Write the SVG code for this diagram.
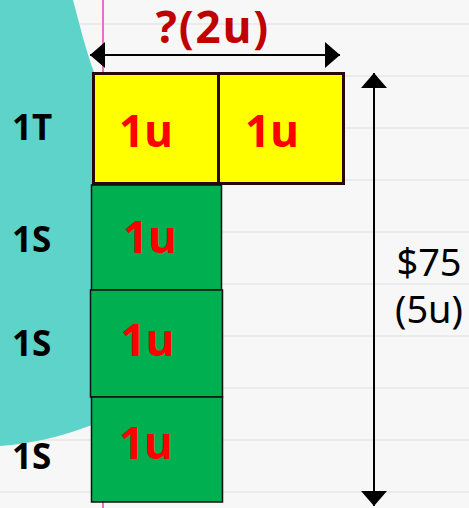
<svg xmlns="http://www.w3.org/2000/svg" width="469" height="508" viewBox="0 0 469 508">
<defs>
<style>
.rule{stroke:#ebebeb;stroke-width:2}
.yb{fill:#ffff00;stroke:#2a0808;stroke-width:3}
.gb{fill:#00b050;stroke:#111;stroke-width:1.5}
.u{font-family:"Noto Sans",sans-serif;font-weight:bold;font-size:44px;fill:#ff0000;text-anchor:middle}
.lab{font-family:"Noto Sans",sans-serif;font-weight:bold;font-size:35px;fill:#000}
.dim{font-family:"Noto Sans",sans-serif;font-size:38px;fill:#000}
.ln{stroke:#000;stroke-width:2;fill:none}
</style>
<marker id="ah" viewBox="0 0 15 26" refX="15" refY="13" markerWidth="15" markerHeight="26" markerUnits="userSpaceOnUse" orient="auto-start-reverse">
<path d="M0,0 L15,13 L0,26 Z" fill="#000"/>
</marker>
</defs>
<rect x="0" y="0" width="469" height="508" fill="#f7f7f7"/>
<g id="rules">
<line class="rule" x1="0" y1="24" x2="469" y2="24"/>
<line class="rule" x1="0" y1="76" x2="469" y2="76"/>
<line class="rule" x1="0" y1="128" x2="469" y2="128"/>
<line class="rule" x1="0" y1="180" x2="469" y2="180"/>
<line class="rule" x1="0" y1="232" x2="469" y2="232"/>
<line class="rule" x1="0" y1="284" x2="469" y2="284"/>
<line class="rule" x1="0" y1="336" x2="469" y2="336"/>
<line class="rule" x1="0" y1="388" x2="469" y2="388"/>
<line class="rule" x1="0" y1="440" x2="469" y2="440"/>
<line class="rule" x1="0" y1="492" x2="469" y2="492"/>
</g>
<path id="teal" d="M0,0 H73 C79,22 85,48 95,75 L95,424 C60,437 30,444 0,446 Z" fill="#5dd3c9"/>
<line id="margin" x1="103" y1="0" x2="103" y2="508" stroke="#f06cc8" stroke-width="2"/>
<g id="labels">
<text class="lab" x="12" y="140">1T</text>
<text class="lab" x="12" y="252">1S</text>
<text class="lab" x="12" y="356">1S</text>
<text class="lab" x="12" y="469">1S</text>
</g>
<g id="t1"><rect class="yb" x="93.5" y="73.5" width="125" height="110"/><text class="u" x="146" y="147">1u</text></g>
<g id="t2"><rect class="yb" x="218.5" y="73.5" width="125" height="110"/><text class="u" x="272" y="147">1u</text></g>
<g id="s1"><rect class="gb" x="91.5" y="185" width="130" height="105"/><text class="u" x="150" y="253">1u</text></g>
<g id="s2"><rect class="gb" x="90.5" y="290" width="132" height="107"/><text class="u" x="147.5" y="356">1u</text></g>
<g id="s3"><rect class="gb" x="91.5" y="397" width="131" height="105"/><text class="u" x="146" y="459">1u</text></g>
<g id="connectors">
<line class="ln" x1="90" y1="55" x2="340" y2="55" marker-start="url(#ah)" marker-end="url(#ah)"/>
<line class="ln" x1="374" y1="73" x2="374" y2="506" marker-start="url(#ah)" marker-end="url(#ah)"/>
</g>
<text id="top" x="213" y="43" font-family="Noto Sans, sans-serif" font-weight="bold" font-size="44" letter-spacing="2" fill="#c00000" text-anchor="middle">?(2u)</text>
<g id="dimlabel">
<text class="dim" x="429" y="276" text-anchor="middle">$75</text>
<text class="dim" x="429" y="323" text-anchor="middle">(5u)</text>
</g>
</svg>
